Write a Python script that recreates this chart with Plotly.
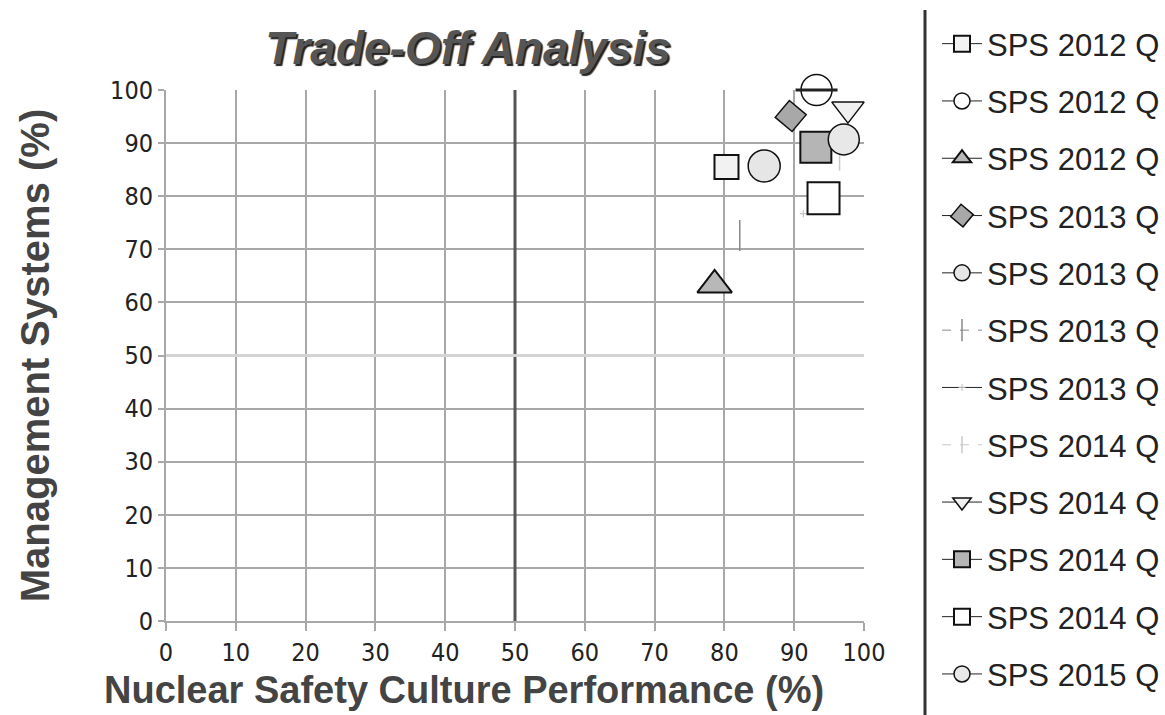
import plotly.graph_objects as go

# Quarterly survey results: culture performance (x) vs management systems (y)
series_names = [
    "SPS 2012 Q", "SPS 2012 Q", "SPS 2012 Q",
    "SPS 2013 Q", "SPS 2013 Q", "SPS 2013 Q", "SPS 2013 Q",
    "SPS 2014 Q", "SPS 2014 Q", "SPS 2014 Q", "SPS 2014 Q",
    "SPS 2015 Q",
]
culture_pct = [80.3, 93.2, 78.6, 89.5, 85.7, 82.2, 91.3, 96.5, 97.7, 93.1, 94.2, 97.1]
mgmt_pct = [85.5, 100.0, 63.3, 95.1, 85.7, 72.6, 76.7, 86.4, 96.4, 89.2, 79.6, 90.7]

axis_ticks = list(range(0, 101, 10))
quadrant_split = 50

# plot frame in pixels (used to place the legend column and titles)
PLOT_L, PLOT_R, PLOT_T, PLOT_B = 166, 864, 90, 621
PLOT_W, PLOT_H = PLOT_R - PLOT_L, PLOT_B - PLOT_T


def px_x(p):
    return (p - PLOT_L) / PLOT_W


def px_y(p):
    return (PLOT_B - p) / PLOT_H


# marker look per series: symbol, size, fill, outline colour, outline width, angle, legend line dash
styles = [
    ("square", 24, "#f2f2f2", "#111", 2, 0, "solid"),
    ("circle", 31, "#ffffff", "#111", 1.5, 0, "solid"),
    ("triangle-up", 30, "#b8b8b8", "#111", 2, 0, "solid"),
    ("square", 22, "#a8a8a8", "#111", 1.5, 40, "solid"),
    ("circle", 32, "#e6e6e6", "#111", 1.5, 0, "solid"),
    ("line-ns", 22, "#888888", "#8a8a8a", 1.5, 0, "dash"),
    ("cross-thin", 5, "#bbbbbb", "#bbbbbb", 1, 0, "solid"),
    ("line-ns", 12, "#cccccc", "#c8c8c8", 1.5, 0, "dash"),
    ("triangle-down", 28, "#f0f0f0", "#111", 1.5, 0, "solid"),
    ("square", 31, "#b5b5b5", "#111", 2, 0, "solid"),
    ("square", 32, "#ffffff", "#111", 2, 0, "solid"),
    ("circle", 31, "#e8e8e8", "#111", 1.5, 0, "solid"),
]

fig = go.Figure()

for i, name in enumerate(series_names):
    sym, size, fill, edge, ew, ang, dash = styles[i]
    fig.add_trace(go.Scatter(
        x=[culture_pct[i]], y=[mgmt_pct[i]],
        mode="lines+markers",
        name=name,
        legendgroup=f"g{i}",
        line=dict(color="#222" if dash == "solid" else edge, width=1, dash=dash),
        marker=dict(symbol=sym, size=size, color=fill, angle=ang,
                    line=dict(color=edge, width=ew)),
        cliponaxis=False,
    ))
    # bar across the 2012 circle
    if i == 1:
        fig.add_trace(go.Scatter(
            x=[culture_pct[i]], y=[mgmt_pct[i]], mode="markers",
            legendgroup=f"g{i}",
            marker=dict(symbol="line-ew", size=30, line=dict(color="#222", width=3)),
            showlegend=False, hoverinfo="skip", cliponaxis=False,
        ))

# quadrant dividers
fig.add_shape(type="line", xref="x", yref="y", x0=quadrant_split, x1=quadrant_split,
              y0=0, y1=100, line=dict(color="#555555", width=3), layer="between")
fig.add_shape(type="line", xref="x", yref="y", x0=0, x1=100,
              y0=quadrant_split, y1=quadrant_split, line=dict(color="#d4d4d4", width=3),
              layer="between")
# rule separating the legend column
fig.add_shape(type="line", xref="paper", yref="paper", x0=px_x(925), x1=px_x(925),
              y0=px_y(740), y1=px_y(10), line=dict(color="#333", width=3))

tick_font = dict(family="Liberation Sans Narrow, DejaVu Sans Condensed, Liberation Sans, sans-serif",
                 size=25, color="#222")
title_color = "#444"

axis_common = dict(
    range=[0, 100], tickvals=axis_ticks, ticktext=[str(t) for t in axis_ticks],
    showgrid=True, gridcolor="#a8a8a8", gridwidth=2,
    showline=True, linecolor="#a8a8a8", linewidth=2,
    ticks="outside", tickcolor="#a8a8a8", tickwidth=2,
    zeroline=False, tickfont=tick_font,
)

fig.update_layout(
    width=1165, height=715,
    paper_bgcolor="white", plot_bgcolor="white",
    margin=dict(l=PLOT_L, r=1165 - PLOT_R, t=PLOT_T, b=715 - PLOT_B, autoexpand=False),
    title=dict(
        text="<i>Trade-Off Analysis</i>",
        x=468 / 1165, xref="container", xanchor="center",
        y=1 - 48 / 715, yref="container", yanchor="middle",
        font=dict(family="Liberation Sans, Arial, sans-serif", size=46, color="#555",
                  weight="bold", shadow="2px 2px 1px #222"),
    ),
    xaxis=dict(**axis_common, ticklen=8),
    yaxis=dict(**axis_common, ticklen=6,
               title=dict(text="Management Systems (%)",
                          font=dict(family="Liberation Sans, Arial, sans-serif", size=40,
                                    color=title_color, weight="bold"),
                          standoff=48)),
    annotations=[dict(
        text="Nuclear Safety Culture Performance (%)",
        xref="paper", yref="paper", x=px_x(464), y=px_y(690),
        xanchor="center", yanchor="middle", showarrow=False,
        font=dict(family="Liberation Sans, Arial, sans-serif", size=38,
                  color=title_color, weight="bold"),
    )],
    showlegend=True,
    legend=dict(
        x=px_x(937), xref="paper", xanchor="left",
        y=1 - 17 / 715, yref="container", yanchor="top",
        orientation="v", bgcolor="rgba(0,0,0,0)", borderwidth=0,
        font=dict(family="Liberation Sans, Arial, sans-serif", size=31, color="#222"),
        itemsizing="trace", itemwidth=40, tracegroupgap=14,
        traceorder="grouped", maxheight=900,
    ),
)

fig.write_html("out.html")
